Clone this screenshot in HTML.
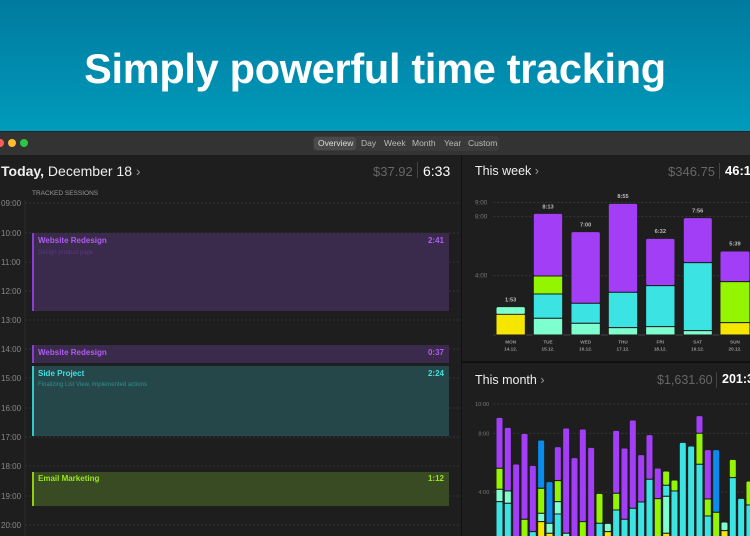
<!DOCTYPE html>
<html><head><meta charset="utf-8"><style>
body{margin:0;width:750px;height:536px;overflow:hidden;background:#1e1e1e;font-family:"Liberation Sans",sans-serif;position:relative}
.ban{position:absolute;left:0;top:0;width:750px;height:131px;background:linear-gradient(#007a9f,#009bbb)}
.ban h1{margin:0;position:absolute;top:45px;width:750px;text-align:center;color:#fff;font-size:41.5px;font-weight:bold;letter-spacing:-0.3px}
.tb{position:absolute;top:131px;left:0;width:750px;height:23px;background:#333;border-top:1px solid #222}
.abs{position:absolute;white-space:nowrap}
</style></head><body>
<div class="ban"><h1>Simply powerful time tracking</h1></div>
<div class="tb">
<div class="abs" style="left:-4px;top:7px;width:8px;height:8px;border-radius:50%;background:#fe5f57"></div>
<div class="abs" style="left:8px;top:7px;width:8px;height:8px;border-radius:50%;background:#febc2e"></div>
<div class="abs" style="left:20px;top:7px;width:8px;height:8px;border-radius:50%;background:#28c840"></div>
<div class="abs" style="left:313px;top:4px;width:186px;height:15px;background:#3a3a3a;border-radius:3px"></div>
<div class="abs" style="left:314px;top:5px;width:42px;height:13px;background:#4a4a4a;border-radius:3px"></div>
<div class="abs" style="left:318px;top:6px;font-size:8.5px;color:#ddd">Overview</div>
<div class="abs" style="left:361px;top:6px;font-size:8.5px;color:#bbb">Day</div>
<div class="abs" style="left:384px;top:6px;font-size:8.5px;color:#bbb">Week</div>
<div class="abs" style="left:412px;top:6px;font-size:8.5px;color:#bbb">Month</div>
<div class="abs" style="left:444px;top:6px;font-size:8.5px;color:#bbb">Year</div>
<div class="abs" style="left:468px;top:6px;font-size:8.5px;color:#bbb">Custom</div>
</div>
<div class="abs" style="left:461px;top:155px;width:1px;height:381px;background:#111"></div>
<div class="abs" style="left:462px;top:361px;width:288px;height:2px;background:#111"></div>
<div class="abs" style="left:1px;top:163px;font-size:14px;color:#eee"><b>Today,</b> December 18 <span style="color:#999">›</span></div>
<div class="abs" style="left:373px;top:164px;font-size:13px;color:#666">$37.92</div>
<div class="abs" style="left:417px;top:162px;width:1px;height:16px;background:#444"></div>
<div class="abs" style="left:423px;top:163px;font-size:14px;color:#fff">6:33</div>
<div class="abs" style="left:32px;top:190px;font-size:6.5px;color:#999">TRACKED SESSIONS</div>
<svg class="abs" style="left:0;top:0" width="461" height="536">
<line x1="25" y1="200" x2="25" y2="536" stroke="#2c2c2c"/>
<g stroke="#333" stroke-dasharray="2,2">
<line x1="25" y1="203" x2="461" y2="203"/><line x1="25" y1="233" x2="461" y2="233"/><line x1="25" y1="262" x2="461" y2="262"/><line x1="25" y1="291" x2="461" y2="291"/><line x1="25" y1="320" x2="461" y2="320"/><line x1="25" y1="349" x2="461" y2="349"/><line x1="25" y1="378" x2="461" y2="378"/><line x1="25" y1="408" x2="461" y2="408"/><line x1="25" y1="437" x2="461" y2="437"/><line x1="25" y1="466" x2="461" y2="466"/><line x1="25" y1="496" x2="461" y2="496"/><line x1="25" y1="525" x2="461" y2="525"/>
</g>
<g font-size="8" fill="#888" font-family="Liberation Sans">
<text x="1" y="206">09:00</text><text x="1" y="236">10:00</text><text x="1" y="265">11:00</text><text x="1" y="294">12:00</text><text x="1" y="323">13:00</text><text x="1" y="352">14:00</text><text x="1" y="381">15:00</text><text x="1" y="411">16:00</text><text x="1" y="440">17:00</text><text x="1" y="469">18:00</text><text x="1" y="499">19:00</text><text x="1" y="528">20:00</text>
</g>
<rect x="32" y="233" width="417" height="78" fill="#3a2a4c"/><rect x="32" y="233" width="2" height="78" fill="#8a3fd0"/>
<rect x="32" y="345" width="417" height="18" fill="#3a2a4c"/><rect x="32" y="345" width="2" height="18" fill="#8a3fd0"/>
<rect x="32" y="366" width="417" height="70" fill="#26474a"/><rect x="32" y="366" width="2" height="70" fill="#35c8c8"/>
<rect x="32" y="472" width="417" height="34" fill="#384b22"/><rect x="32" y="472" width="2" height="34" fill="#8ed010"/>
<g font-family="Liberation Sans" font-weight="bold" font-size="8">
<text x="38" y="243" fill="#b05cf0">Website Redesign</text><text x="444" y="243" fill="#b05cf0" text-anchor="end">2:41</text>
<text x="38" y="355" fill="#b05cf0">Website Redesign</text><text x="444" y="355" fill="#b05cf0" text-anchor="end">0:37</text>
<text x="38" y="376" fill="#3fe0e0">Side Project</text><text x="444" y="376" fill="#3fe0e0" text-anchor="end">2:24</text>
<text x="38" y="481" fill="#9be619">Email Marketing</text><text x="444" y="481" fill="#9be619" text-anchor="end">1:12</text>
</g>
<g font-family="Liberation Sans" font-size="6">
<text x="38" y="254" fill="#5a3a80">Design product page</text>
<text x="38" y="386" fill="#2f8f8f">Finalizing List View, implemented actions</text>
</g>
</svg>
<div class="abs" style="left:475px;top:164px;font-size:12.5px;color:#eee">This week <span style="color:#999">›</span></div>
<div class="abs" style="left:668px;top:164px;font-size:13px;color:#666">$346.75</div>
<div class="abs" style="left:719px;top:163px;width:1px;height:16px;background:#444"></div>
<div class="abs" style="left:725px;top:163px;font-size:13px;color:#fff;font-weight:bold">46:1</div>
<svg class="abs" style="left:0;top:0" width="750" height="536">
<g transform="translate(460,150) scale(0.3333)">
<g stroke="#383838" stroke-width="3" stroke-dasharray="6,6"><line x1="100" y1="157" x2="870" y2="157"/><line x1="100" y1="200" x2="870" y2="200"/><line x1="100" y1="377" x2="870" y2="377"/></g>
<line x1="100" y1="555" x2="870" y2="555" stroke="#444" stroke-width="3"/>
<g font-family="Liberation Sans" font-size="19" fill="#777"><text x="45" y="163">9:00</text><text x="45" y="206">8:00</text><text x="45" y="383">4:00</text></g>
<g stroke="#1e1e1e" stroke-width="3">
<rect x="108" y="470" width="88" height="24" rx="6" fill="#7dffd0"/><rect x="108" y="493" width="88" height="62" fill="#f5e600"/>
<rect x="220" y="190" width="88" height="188" rx="6" fill="#a23ef5"/><rect x="220" y="378" width="88" height="54" fill="#94f500"/><rect x="220" y="432" width="88" height="73" fill="#3ce3e3"/><rect x="220" y="505" width="88" height="50" fill="#7dffd0"/>
<rect x="333" y="245" width="88" height="215" rx="6" fill="#a23ef5"/><rect x="333" y="460" width="88" height="60" fill="#3ce3e3"/><rect x="333" y="520" width="88" height="35" fill="#7dffd0"/>
<rect x="445" y="160" width="88" height="267" rx="6" fill="#a23ef5"/><rect x="445" y="427" width="88" height="106" fill="#3ce3e3"/><rect x="445" y="533" width="88" height="22" fill="#7dffd0"/>
<rect x="557" y="265" width="88" height="142" rx="6" fill="#a23ef5"/><rect x="557" y="407" width="88" height="123" fill="#3ce3e3"/><rect x="557" y="530" width="88" height="25" fill="#7dffd0"/>
<rect x="670" y="203" width="87" height="135" rx="6" fill="#a23ef5"/><rect x="670" y="338" width="87" height="204" fill="#3ce3e3"/><rect x="670" y="542" width="87" height="13" fill="#7dffd0"/>
<rect x="780" y="303" width="90" height="92" rx="6" fill="#a23ef5"/><rect x="780" y="395" width="90" height="123" fill="#94f500"/><rect x="780" y="518" width="90" height="37" fill="#f5e600"/>
</g>
<g font-family="Liberation Sans" font-size="17" font-weight="bold" fill="#bbb" text-anchor="middle">
<text x="152" y="455">1:53</text><text x="264" y="175">8:13</text><text x="377" y="229">7:00</text><text x="489" y="144">8:55</text><text x="601" y="249">6:32</text><text x="713" y="187">7:56</text><text x="825" y="287">5:39</text>
</g>
<g font-family="Liberation Sans" font-size="14" font-weight="bold" fill="#999" text-anchor="middle">
<text x="152" y="580">MON</text><text x="264" y="580">TUE</text><text x="377" y="580">WED</text><text x="489" y="580">THU</text><text x="601" y="580">FRI</text><text x="713" y="580">SAT</text><text x="825" y="580">SUN</text>
<text x="152" y="602">14.12.</text><text x="264" y="602">15.12.</text><text x="377" y="602">16.12.</text><text x="489" y="602">17.12.</text><text x="601" y="602">18.12.</text><text x="713" y="602">19.12.</text><text x="825" y="602">20.12.</text>
</g>
</g>
<g transform="translate(460,360) scale(0.3333)">
<g stroke="#383838" stroke-width="3" stroke-dasharray="6,6"><line x1="100" y1="132" x2="870" y2="132"/><line x1="100" y1="220" x2="870" y2="220"/><line x1="100" y1="396" x2="870" y2="396"/></g>
<g font-family="Liberation Sans" font-size="17" fill="#777"><text x="45" y="138">10:00</text><text x="55" y="226">8:00</text><text x="55" y="402">4:00</text></g>
<g stroke="#1e1e1e" stroke-width="3">
<rect x="108" y="172" width="21" height="153" rx="5" fill="#a23ef5"/><rect x="108" y="325" width="21" height="63" fill="#94f500"/><rect x="108" y="388" width="21" height="37" fill="#7dffd0"/><rect x="108" y="425" width="21" height="120" fill="#3ce3e3"/>
<rect x="133" y="202" width="21" height="191" rx="5" fill="#a23ef5"/><rect x="133" y="393" width="21" height="37" fill="#7dffd0"/><rect x="133" y="430" width="21" height="120" fill="#3ce3e3"/>
<rect x="158" y="312" width="21" height="240" rx="5" fill="#a23ef5"/>
<rect x="183" y="220" width="21" height="258" rx="5" fill="#a23ef5"/><rect x="183" y="478" width="21" height="70" fill="#94f500"/>
<rect x="208" y="316" width="21" height="199" rx="5" fill="#a23ef5"/><rect x="208" y="515" width="21" height="40" fill="#3ce3e3"/>
<rect x="233" y="240" width="21" height="145" rx="5" fill="#0a8cef"/><rect x="233" y="385" width="21" height="75" fill="#94f500"/><rect x="233" y="460" width="21" height="25" fill="#7dffd0"/><rect x="233" y="485" width="21" height="70" fill="#f5e600"/>
<rect x="258" y="365" width="21" height="125" rx="5" fill="#0a8cef"/><rect x="258" y="490" width="21" height="30" fill="#7dffd0"/><rect x="258" y="520" width="21" height="35" fill="#f5e600"/>
<rect x="283" y="260" width="21" height="102" rx="5" fill="#a23ef5"/><rect x="283" y="362" width="21" height="63" fill="#94f500"/><rect x="283" y="425" width="21" height="37" fill="#7dffd0"/><rect x="283" y="462" width="21" height="90" fill="#3ce3e3"/>
<rect x="308" y="204" width="21" height="316" rx="5" fill="#a23ef5"/><rect x="308" y="520" width="21" height="35" fill="#7dffd0"/>
<rect x="333" y="293" width="21" height="260" rx="5" fill="#a23ef5"/>
<rect x="358" y="207" width="21" height="278" rx="5" fill="#a23ef5"/><rect x="358" y="485" width="21" height="70" fill="#94f500"/>
<rect x="383" y="262" width="21" height="290" rx="5" fill="#a23ef5"/>
<rect x="408" y="400" width="21" height="90" rx="5" fill="#94f500"/><rect x="408" y="490" width="21" height="65" fill="#3ce3e3"/>
<rect x="433" y="490" width="21" height="25" rx="5" fill="#7dffd0"/><rect x="433" y="515" width="21" height="40" fill="#f5e600"/>
<rect x="458" y="211" width="21" height="189" rx="5" fill="#a23ef5"/><rect x="458" y="400" width="21" height="50" fill="#94f500"/><rect x="458" y="450" width="21" height="105" fill="#3ce3e3"/>
<rect x="483" y="264" width="21" height="214" rx="5" fill="#a23ef5"/><rect x="483" y="478" width="21" height="77" fill="#3ce3e3"/>
<rect x="508" y="180" width="21" height="265" rx="5" fill="#a23ef5"/><rect x="508" y="445" width="21" height="110" fill="#3ce3e3"/>
<rect x="533" y="284" width="21" height="142" rx="5" fill="#a23ef5"/><rect x="533" y="426" width="21" height="129" fill="#3ce3e3"/>
<rect x="558" y="224" width="21" height="134" rx="5" fill="#a23ef5"/><rect x="558" y="358" width="21" height="197" fill="#3ce3e3"/>
<rect x="583" y="324" width="21" height="92" rx="5" fill="#a23ef5"/><rect x="583" y="416" width="21" height="139" fill="#94f500"/>
<rect x="608" y="333" width="21" height="43" rx="5" fill="#94f500"/><rect x="608" y="376" width="21" height="33" fill="#3ce3e3"/><rect x="608" y="409" width="21" height="111" fill="#7dffd0"/><rect x="608" y="520" width="21" height="35" fill="#f5e600"/>
<rect x="633" y="360" width="21" height="33" rx="5" fill="#94f500"/><rect x="633" y="393" width="21" height="162" fill="#3ce3e3"/>
<rect x="658" y="247" width="21" height="308" rx="5" fill="#3ce3e3"/>
<rect x="683" y="258" width="21" height="297" rx="5" fill="#3ce3e3"/>
<rect x="708" y="167" width="21" height="53" rx="5" fill="#a23ef5"/><rect x="708" y="220" width="21" height="93" fill="#94f500"/><rect x="708" y="313" width="21" height="242" fill="#3ce3e3"/>
<rect x="733" y="269" width="21" height="148" rx="5" fill="#a23ef5"/><rect x="733" y="417" width="21" height="51" fill="#94f500"/><rect x="733" y="468" width="21" height="87" fill="#3ce3e3"/>
<rect x="758" y="269" width="21" height="188" rx="5" fill="#0a8cef"/><rect x="758" y="457" width="21" height="98" fill="#94f500"/>
<rect x="783" y="486" width="21" height="26" rx="5" fill="#7dffd0"/><rect x="783" y="512" width="21" height="43" fill="#f5e600"/>
<rect x="808" y="298" width="21" height="55" rx="5" fill="#94f500"/><rect x="808" y="353" width="21" height="202" fill="#3ce3e3"/>
<rect x="833" y="415" width="21" height="140" rx="5" fill="#3ce3e3"/>
<rect x="858" y="363" width="21" height="72" rx="5" fill="#94f500"/><rect x="858" y="435" width="21" height="120" fill="#3ce3e3"/>
</g>
</g>
</svg>
<div class="abs" style="left:475px;top:373px;font-size:12.5px;color:#eee">This month <span style="color:#999">›</span></div>
<div class="abs" style="left:657px;top:373px;font-size:12.5px;color:#666">$1,631.60</div>
<div class="abs" style="left:716px;top:372px;width:1px;height:16px;background:#444"></div>
<div class="abs" style="left:722px;top:372px;font-size:12.5px;color:#fff;font-weight:bold">201:3</div>
</body></html>
